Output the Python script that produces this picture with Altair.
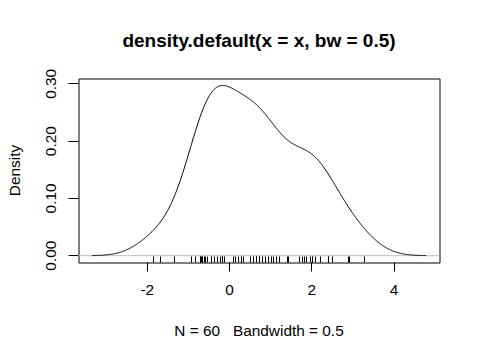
import altair as alt
import pandas as pd

# ---- data (rug positions; repeated values are overlapping ticks) ----
rug_x = [
    -1.845, -1.682, -1.335, -0.913, -0.816, -0.711, -0.711, -0.687, -0.650,
    -0.650, -0.614, -0.590, -0.524, -0.444, -0.444, -0.364, -0.282, -0.226,
    -0.170, -0.170, -0.170, -0.170, -0.121, 0.097, 0.155, 0.228, 0.284, 0.284,
    0.340, 0.519, 0.583, 0.583, 0.665, 0.665, 0.728, 0.728, 0.801, 0.867,
    0.947, 1.012, 1.068, 1.150, 1.214, 1.408, 1.432, 1.692, 1.772, 1.820,
    1.879, 1.959, 2.015, 2.015, 2.080, 2.201, 2.403, 2.403, 2.500, 2.888,
    2.913, 3.277,
]
bandwidth = 0.5
x_ticks = [-2, 0, 2, 4]
y_ticks = [0.00, 0.05, 0.10, 0.15, 0.20, 0.25, 0.30]
peak_density = 0.2975
title_text = "density.default(x = x, bw = 0.5)"
x_title = "N = 60 \u00a0 Bandwidth = 0.5"
y_title = "Density"

FONT = "Liberation Sans, Arial, sans-serif"
W, H = 361, 184

lo = min(rug_x) - 3 * bandwidth
hi = max(rug_x) + 3 * bandwidth
pad = 0.04 * (hi - lo)
x_domain = [lo - pad, hi + pad]
x_scale = alt.Scale(domain=x_domain, nice=False, zero=False)
x_scale_rug = alt.Scale(domain=x_domain, nice=False, zero=False, round=True)
y_scale = alt.Scale(domain=[-0.04 * peak_density, 1.04 * peak_density], nice=False, zero=False)

df = pd.DataFrame({"x": rug_x})

x_axis = alt.Axis(
    values=x_ticks, domain=False, grid=False, tickSize=9, tickColor="black",
    translate=0,
    labelExpr="(datum.value < 0 ? '-' : '') + abs(datum.value)",
    labelFont=FONT, labelFontSize=15.4, labelColor="black", labelPadding=11,
    title=x_title, titleFont=FONT, titleFontSize=15.4, titleFontWeight="normal",
    titleColor="black", titleX=W / 2, titleY=68, titleBaseline="middle", titleAlign="center",
)
y_axis = alt.Axis(
    values=y_ticks, domain=False, grid=False, tickSize=10, tickColor="black",
    translate=0,
    labelExpr="round(datum.value * 20) % 2 == 0 ? format(datum.value, '.2f') : ''",
    labelFont=FONT, labelFontSize=15.4, labelColor="black", labelPadding=18,
    labelAngle=270, labelAlign="center", labelBaseline="middle",
    title=y_title, titleFont=FONT, titleFontSize=15.4, titleFontWeight="normal",
    titleColor="black", titleX=-64, titleY=H / 2, titleAngle=270,
    titleBaseline="middle", titleAlign="center",
)

curve = (
    alt.Chart(df)
    .transform_density("x", as_=["xv", "density"], bandwidth=bandwidth,
                       extent=[lo, hi], steps=512)
    .mark_line(color="black", strokeWidth=1)
    .encode(
        x=alt.X("xv:Q", scale=x_scale, axis=x_axis),
        y=alt.Y("density:Q", scale=y_scale, axis=y_axis),
    )
)

zero_line = (
    alt.Chart(pd.DataFrame({"y": [0.0]}))
    .mark_rule(color="#BEBEBE", strokeWidth=1)
    .encode(y=alt.Y("y:Q", scale=y_scale))
)

rug = (
    alt.Chart(df)
    .mark_rule(color="black", strokeWidth=1)
    .encode(
        x=alt.X("x:Q", scale=x_scale_rug, axis=None),
        y=alt.value(H),
        y2=alt.value(H - 6),
    )
)

chart = (
    alt.layer(zero_line, curve, rug)
    .resolve_scale(x="independent")
    .properties(
        width=W,
        height=H,
        autosize=alt.AutoSizeParams(type="none"),
        padding={"left": 70.5, "top": 70.5, "right": 32.5, "bottom": 89.5},
        background="white",
        title=alt.Title(title_text, font=FONT, fontSize=19, fontWeight="bold",
                        color="black", anchor="middle", frame="group",
                        baseline="alphabetic", offset=3),
    )
    .configure_view(stroke="black", strokeWidth=1)
)

chart.save("out.html", embed_options={"renderer": "svg", "actions": False})
